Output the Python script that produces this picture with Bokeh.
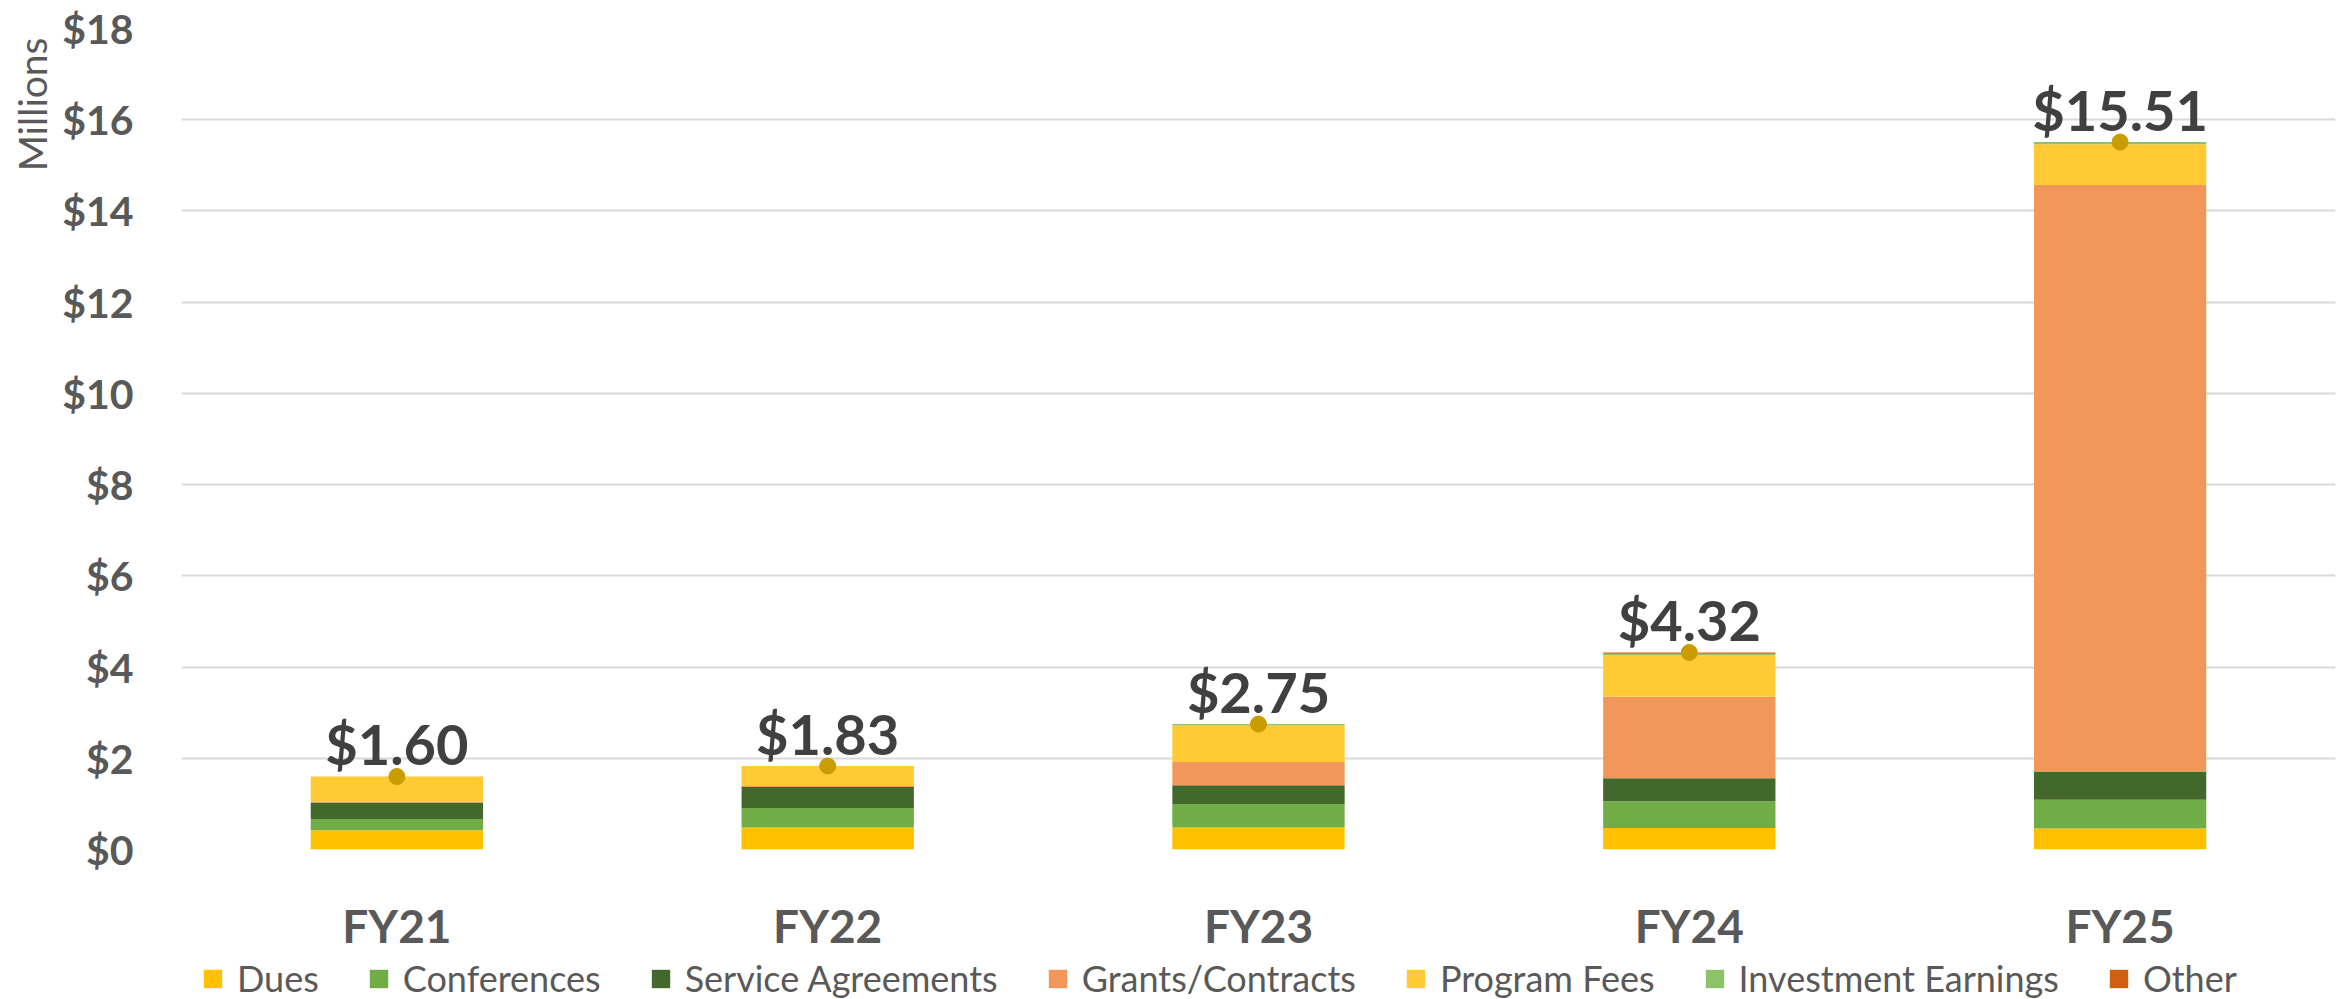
from bokeh.plotting import figure
from bokeh.layouts import column
from bokeh.models import (ColumnDataSource, FactorRange, Range1d, FixedTicker,
                          PrintfTickFormatter, Legend, LegendItem, Title)
from bokeh.core.properties import value
from bokeh.embed import file_html
from bokeh.resources import INLINE

# ---- data (millions of dollars) ----
years = ["FY21", "FY22", "FY23", "FY24", "FY25"]
dues = [0.42, 0.48, 0.48, 0.47, 0.46]
conferences = [0.25, 0.43, 0.52, 0.59, 0.63]
service_agreements = [0.36, 0.46, 0.41, 0.50, 0.61]
grants_contracts = [0.02, 0.02, 0.51, 1.79, 12.87]
program_fees = [0.55, 0.44, 0.80, 0.91, 0.89]
investment_earnings = [0.00, 0.00, 0.03, 0.03, 0.05]
other = [0.00, 0.00, 0.00, 0.03, 0.00]
totals = [1.60, 1.83, 2.75, 4.32, 15.51]
y_ticks = [0, 2, 4, 6, 8, 10, 12, 14, 16, 18]

series_names = ["Dues", "Conferences", "Service Agreements", "Grants/Contracts",
                "Program Fees", "Investment Earnings", "Other"]
series_keys = ["dues", "conferences", "service", "grants", "program", "investment", "other"]
colors = ["#FFC000", "#70AD47", "#43682B", "#F1975A", "#FFCA33", "#8DC16A", "#D0600F"]

source = ColumnDataSource(data=dict(
    years=years, dues=dues, conferences=conferences, service=service_agreements,
    grants=grants_contracts, program=program_fees, investment=investment_earnings,
    other=other))
tot_source = ColumnDataSource(data=dict(
    years=years, totals=totals, labels=["$%.2f" % t for t in totals]))

# ---- main chart ----
p = figure(width=2349, height=955, x_range=FactorRange(*years, range_padding=0),
           y_range=Range1d(0, 18), output_backend="svg", toolbar_location=None,
           min_border_left=181, min_border_right=14, min_border_top=28,
           min_border_bottom=98)
p.outline_line_color = None
p.background_fill_color = "white"

p.vbar_stack(series_keys, x="years", width=0.4, source=source,
             color=colors, line_color=None)

p.scatter(x="years", y="totals", source=tot_source, size=16, color="#C99C00")
p.text(x="years", y="totals", text="labels", source=tot_source,
       text_align="center", text_baseline="alphabetic", y_offset=-33,
       text_font=value("Lato"), text_font_style="bold",
       text_font_size="56px", text_color="#404040")

p.yaxis.ticker = FixedTicker(ticks=y_ticks)
p.yaxis.formatter = PrintfTickFormatter(format="$%d")
p.yaxis.axis_line_color = None
p.yaxis.major_tick_line_color = None
p.yaxis.minor_tick_line_color = None
p.yaxis.major_label_standoff = 42
p.yaxis.major_label_text_font = "Lato"
p.yaxis.major_label_text_font_style = "bold"
p.yaxis.major_label_text_font_size = "41px"
p.yaxis.major_label_text_color = "#595959"

p.xaxis.axis_line_color = None
p.xaxis.major_tick_line_color = None
p.xaxis.minor_tick_line_color = None
p.xaxis.major_label_standoff = 42
p.xaxis.major_label_text_font = "Lato"
p.xaxis.major_label_text_font_style = "bold"
p.xaxis.major_label_text_font_size = "46px"
p.xaxis.major_label_text_color = "#595959"

p.xgrid.grid_line_color = None
p.ygrid.grid_line_color = "#D9D9D9"
p.ygrid.grid_line_width = 2

p.add_layout(Title(text="Millions", align="right", offset=9, standoff=9,
                   text_font="Lato", text_font_size="39px",
                   text_font_style="normal", text_color="#595959"), "left")

# ---- legend strip (same series; bars lie outside its visible range) ----
lg = figure(width=2349, height=44, x_range=FactorRange(*years, range_padding=0),
            y_range=Range1d(100, 101), output_backend="svg", toolbar_location=None,
            min_border_left=0, min_border_right=0, min_border_top=0,
            min_border_bottom=0)
lg.outline_line_color = None
lg.axis.visible = False
lg.grid.grid_line_color = None
lg_renderers = lg.vbar_stack(series_keys, x="years", width=0.4, source=source,
                             color=colors, line_color=None)

legend = Legend(items=[LegendItem(label=n, renderers=[r]) for n, r in zip(series_names, lg_renderers)],
                orientation="horizontal", location=(20, -1),
                glyph_width=23, glyph_height=23, label_standoff=13, spacing=48,
                padding=0, margin=0, border_line_color=None, background_fill_alpha=0,
                label_text_font="Lato", label_text_font_size="36px",
                label_text_color="#595959")
lg.add_layout(legend, "center")

layout = column(p, lg, spacing=0)
open("out.html", "w").write(file_html(layout, INLINE))
